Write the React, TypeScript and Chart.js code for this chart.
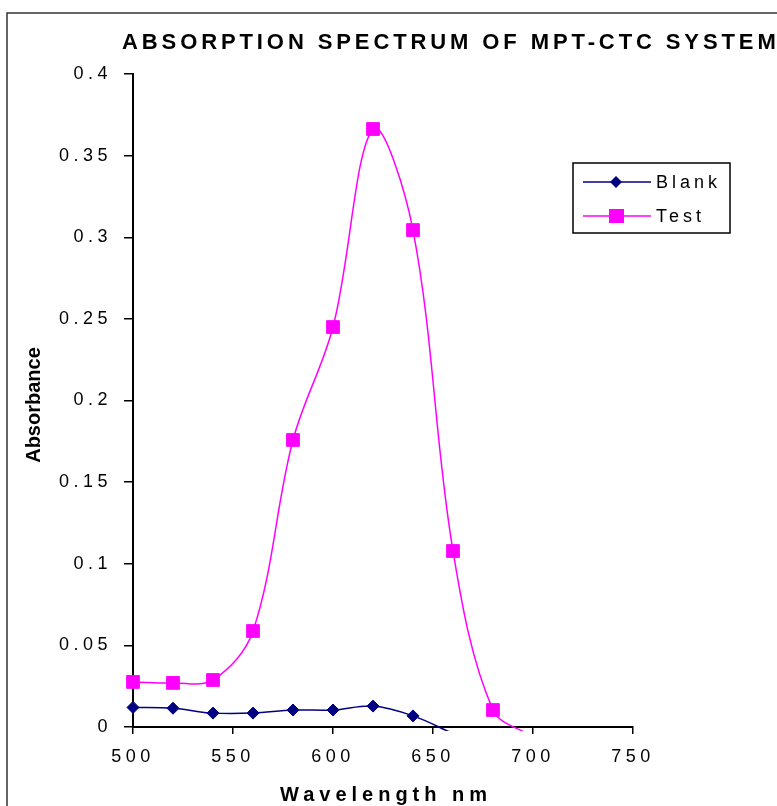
import React, { useEffect, useRef } from "react";
import { Chart, registerables } from "chart.js";

Chart.register(...registerables);

const chartTitle = "ABSORPTION SPECTRUM OF MPT-CTC SYSTEM";
const xAxisTitle = "Wavelength nm";
const yAxisTitle = "Absorbance";

const wavelengths = [500, 520, 540, 560, 580, 600, 620, 640, 660, 680, 700];
const blankValues = [0.012, 0.0115, 0.0085, 0.0085, 0.0104, 0.0104, 0.0128, 0.0068, -0.004, null, null];
const testValues = [0.0276, 0.027, 0.0288, 0.0588, 0.1758, 0.245, 0.3663, 0.3044, 0.1078, 0.0104, -0.006];

const seriesLabels = ["Blank", "Test"];
const seriesColors = ["#000080", "#FF00FF"];

const xTickValues = [500, 550, 600, 650, 700, 750];
const xTickLabels = ["500", "550", "600", "650", "700", "750"];
const yTickValues = [0, 0.05, 0.1, 0.15, 0.2, 0.25, 0.3, 0.35, 0.4];
const yTickLabels = ["0", "0.05", "0.1", "0.15", "0.2", "0.25", "0.3", "0.35", "0.4"];

const FONT = "'Liberation Sans', Arial, sans-serif";
const TICK_SPACING = "4.5px";

function toPoints(values: (number | null)[]) {
  const pts: { x: number; y: number }[] = [];
  values.forEach((v, i) => {
    if (v !== null) pts.push({ x: wavelengths[i], y: v });
  });
  return pts;
}

const decorPlugin = {
  id: "decor",
  beforeLayout(chart: any) {
    (chart.ctx as any).letterSpacing = TICK_SPACING;
  },
  beforeDraw(chart: any) {
    const ctx = chart.ctx;
    (ctx as any).letterSpacing = TICK_SPACING;
    ctx.save();
    ctx.fillStyle = "#fff";
    ctx.fillRect(0, 0, chart.width, chart.height);
    ctx.restore();
  },
  afterDraw(chart: any) {
    const ctx = chart.ctx as any;
    ctx.save();
    // outer frame
    ctx.strokeStyle = "#333";
    ctx.lineWidth = 1.5;
    ctx.strokeRect(7, 13, 800, 820);

    // title
    ctx.fillStyle = "#000";
    ctx.font = `bold 22px ${FONT}`;
    ctx.letterSpacing = "3.9px";
    ctx.textAlign = "left";
    ctx.textBaseline = "alphabetic";
    ctx.fillText(chartTitle, 122, 49);

    // x title
    ctx.font = `bold 20px ${FONT}`;
    ctx.letterSpacing = "5px";
    ctx.fillText(xAxisTitle, 280, 801);

    // y title
    ctx.save();
    ctx.translate(40, 405);
    ctx.rotate(-Math.PI / 2);
    ctx.font = `bold 20px ${FONT}`;
    ctx.letterSpacing = "0px";
    ctx.textAlign = "center";
    ctx.fillText(yAxisTitle, 0, 0);
    ctx.restore();

    // legend
    const bx = 573, by = 163, bw = 157, bh = 70;
    ctx.strokeStyle = "#000";
    ctx.lineWidth = 1.5;
    ctx.strokeRect(bx, by, bw, bh);
    const rows = [182, 216];
    chart.data.datasets.forEach((ds: any, i: number) => {
      const y = rows[i];
      ctx.strokeStyle = ds.borderColor;
      ctx.lineWidth = 1.5;
      ctx.beginPath();
      ctx.moveTo(583, y);
      ctx.lineTo(651, y);
      ctx.stroke();
      ctx.fillStyle = ds.borderColor;
      if (ds.pointStyle === "rectRot") {
        ctx.beginPath();
        ctx.moveTo(616, y - 6);
        ctx.lineTo(622, y);
        ctx.lineTo(616, y + 6);
        ctx.lineTo(610, y);
        ctx.closePath();
        ctx.fill();
      } else {
        ctx.fillRect(609, y - 7, 15, 14);
      }
      ctx.fillStyle = "#000";
      ctx.font = `18px ${FONT}`;
      ctx.letterSpacing = "4px";
      ctx.textAlign = "left";
      ctx.textBaseline = "alphabetic";
      ctx.fillText(ds.label, 656, y + 6);
    });
    ctx.restore();
    ctx.letterSpacing = TICK_SPACING;
  },
};

export default function App() {
  const ref = useRef<HTMLCanvasElement | null>(null);
  useEffect(() => {
    if (!ref.current) return;
    const radiusFn = (r: number) => (c: any) => (c.raw && c.raw.y < 0 ? 0 : r);
    const chart = new Chart(ref.current, {
      type: "line",
      data: {
        datasets: [
          {
            label: seriesLabels[0],
            data: toPoints(blankValues),
            borderColor: seriesColors[0],
            backgroundColor: seriesColors[0],
            pointBackgroundColor: seriesColors[0],
            pointBorderColor: seriesColors[0],
            pointBorderWidth: 1,
            pointStyle: "rectRot",
            pointRadius: radiusFn(6),
            borderWidth: 1.5,
            tension: 0.35,
            clip: { left: 20, top: 20, right: 20, bottom: 4 },
          } as any,
          {
            label: seriesLabels[1],
            data: toPoints(testValues),
            borderColor: seriesColors[1],
            backgroundColor: seriesColors[1],
            pointBackgroundColor: seriesColors[1],
            pointBorderColor: seriesColors[1],
            pointBorderWidth: 1,
            pointStyle: "rect",
            pointRadius: radiusFn(9),
            borderWidth: 1.5,
            tension: 0.35,
            clip: { left: 20, top: 20, right: 20, bottom: 4 },
          } as any,
        ],
      },
      options: {
        responsive: false,
        animation: false,
        events: [],
        layout: { padding: { left: 0, top: 74, right: 144, bottom: 0 } },
        plugins: {
          legend: { display: false },
          title: { display: false },
          tooltip: { enabled: false },
        },
        scales: {
          x: {
            type: "linear",
            min: 500,
            max: 750,
            afterBuildTicks: (s: any) => {
              s.ticks = xTickValues.map((v) => ({ value: v }));
            },
            afterFit: (s: any) => {
              s.height = 79;
            },
            ticks: {
              autoSkip: false,
              maxRotation: 0,
              padding: 12,
              color: "#000",
              font: { family: FONT, size: 18 },
              callback: (_v: any, i: number) => xTickLabels[i],
            },
            grid: {
              display: true,
              drawOnChartArea: false,
              drawTicks: true,
              tickLength: 7,
              color: "#000",
              lineWidth: 1.5,
            },
            border: { display: true, color: "#000", width: 2 },
          },
          y: {
            type: "linear",
            min: 0,
            max: 0.4,
            afterBuildTicks: (s: any) => {
              s.ticks = yTickValues.map((v) => ({ value: v }));
            },
            afterFit: (s: any) => {
              s.width = 133;
            },
            ticks: {
              autoSkip: false,
              padding: 12,
              color: "#000",
              font: { family: FONT, size: 18 },
              callback: (_v: any, i: number) => yTickLabels[i],
            },
            grid: {
              display: true,
              drawOnChartArea: false,
              drawTicks: true,
              tickLength: 9,
              color: "#000",
              lineWidth: 1.5,
            },
            border: { display: true, color: "#000", width: 2 },
          },
        },
      },
      plugins: [decorPlugin],
    });
    return () => chart.destroy();
  }, []);

  return (
    <div style={{ position: "absolute", left: 0, top: 0, width: 777, height: 806, background: "#fff" }}>
      <canvas ref={ref} width={777} height={806} style={{ width: 777, height: 806, display: "block" }} />
    </div>
  );
}
